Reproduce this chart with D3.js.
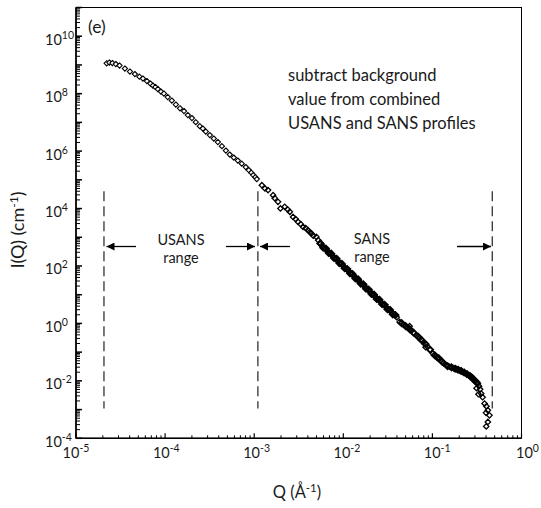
<!DOCTYPE html>
<html>
<head>
<meta charset="utf-8">
<script src="https://cdnjs.cloudflare.com/ajax/libs/d3/7.8.5/d3.min.js"></script>
<style>
  body { margin: 0; background: #fff; }
  text { font-family: Lato, "Open Sans", sans-serif; fill: #1a1a1a; }
</style>
</head>
<body>
<script>
// USANS part of the profile
var usansQ = [2.21e-5, 2.37e-5, 2.56e-5, 2.80e-5, 3.08e-5, 3.54e-5, 4.03e-5, 4.58e-5, 5.15e-5, 5.64e-5,
  6.25e-5, 6.84e-5, 7.30e-5, 7.78e-5, 8.30e-5, 8.97e-5, 9.70e-5, 1.07e-4, 1.19e-4, 1.32e-4,
  1.47e-4, 1.63e-4, 1.80e-4, 2.00e-4, 2.21e-4, 2.45e-4, 2.65e-4, 2.86e-4, 3.18e-4, 3.52e-4,
  3.91e-4, 4.34e-4, 4.81e-4, 5.32e-4, 5.90e-4, 6.55e-4, 7.26e-4, 8.05e-4, 8.69e-4, 9.28e-4,
  9.77e-4, 1.03e-3, 1.07e-3];
var usansI = [1.14e9, 1.21e9, 1.16e9, 1.07e9, 9.5e8, 7.5e8, 5.9e8, 4.8e8, 3.9e8, 3.36e8,
  2.75e8, 2.25e8, 1.91e8, 1.70e8, 1.45e8, 1.18e8, 1.01e8, 7.6e7, 5.75e7, 4.17e7,
  3.1e7, 2.48e7, 1.80e7, 1.41e7, 1.02e7, 7.4e6, 6.1e6, 4.8e6, 3.6e6, 2.73e6,
  2.06e6, 1.49e6, 1.04e6, 7.55e5, 5.94e5, 4.67e5, 3.66e5, 2.77e5, 2.18e5, 1.78e5,
  1.46e5, 1.24e5, 1.06e5];

// SANS part of the profile
var sansQ = [1.22e-3, 1.32e-3, 1.43e-3, 1.63e-3, 1.70e-3, 1.85e-3, 1.97e-3, 2.20e-3, 2.38e-3, 2.51e-3,
  2.73e-3, 2.92e-3, 3.10e-3, 3.33e-3, 3.53e-3, 3.79e-3, 4.02e-3, 4.20e-3, 4.39e-3, 4.60e-3,
  4.99e-3, 5.23e-3, 5.43e-3, 5.75e-3, 6.17e-3, 6.61e-3, 7.08e-3, 7.59e-3, 8.13e-3, 8.71e-3,
  9.33e-3, 1.00e-2, 1.07e-2, 1.15e-2, 1.23e-2, 1.32e-2, 1.41e-2, 1.51e-2, 1.62e-2, 1.74e-2,
  1.86e-2, 2.00e-2, 2.14e-2, 2.29e-2, 2.45e-2, 2.63e-2, 2.82e-2, 3.02e-2, 3.24e-2, 3.47e-2,
  3.72e-2, 3.98e-2, 0.0429, 0.0475, 0.0527, 0.0555, 0.0585, 0.066, 0.072, 0.0796,
  0.0839, 0.0883, 0.1014, 0.1114, 0.114, 0.1236, 0.1336, 0.143, 0.156, 0.173,
  0.187, 0.202, 0.218, 0.236, 0.255, 0.273, 0.290, 0.305, 0.313, 0.324,
  0.329, 0.334, 0.343, 0.353, 0.366, 0.385, 0.404, 0.419, 0.400, 0.437,
  0.419, 0.402];
var sansI = [6.5e4, 5.0e4, 4.38e4, 2.93e4, 2.30e4, 1.71e4, 1.01e4, 1.15e4, 9.2e3, 7.7e3,
  5.1e3, 4.28e3, 3.44e3, 2.86e3, 2.30e3, 2.07e3, 1.77e3, 1.51e3, 1.36e3, 1.14e3,
  1.03e3, 790, 608, 513, 418, 340, 277, 225, 184, 150,
  122, 99, 81, 66, 53.7, 43.7, 35.6, 29.0, 23.6, 19.2,
  15.7, 12.8, 10.4, 8.47, 6.90, 5.62, 4.58, 3.73, 3.04, 2.48,
  2.01, 1.64, 1.13, 0.90, 0.708, 0.80, 0.557, 0.388, 0.305, 0.221,
  0.148, 0.154, 0.0893, 0.0692, 0.0614, 0.0522, 0.0410, 0.035, 0.031, 0.0275,
  0.0254, 0.0234, 0.0207, 0.0184, 0.0157, 0.0137, 0.0114, 0.0097, 0.00553, 0.00805,
  0.00342, 0.00649, 0.00509, 0.00361, 0.00269, 0.00162, 0.00130, 9.46e-4, 7.7e-4, 6.3e-4,
  3.7e-4, 2.6e-4];

// extra SANS points where the profile is densely sampled
var sansDenseQ = [5.56e-3, 5.96e-3, 6.38e-3, 6.84e-3, 7.33e-3, 7.85e-3, 8.41e-3, 9.02e-3, 9.66e-3, 1.035e-2,
  1.109e-2, 1.189e-2, 1.274e-2, 1.365e-2, 1.462e-2, 1.567e-2, 1.679e-2, 1.799e-2, 1.928e-2, 2.065e-2,
  2.213e-2, 2.371e-2, 2.541e-2, 2.723e-2, 2.917e-2, 3.126e-2, 3.350e-2, 3.589e-2, 3.846e-2, 0.0452,
  0.0501, 0.0555, 0.0615, 0.0692, 0.0757, 0.0839, 0.0942, 0.106, 0.1175, 0.1285,
  0.148, 0.164, 0.180, 0.194, 0.210, 0.227, 0.245, 0.265, 0.282, 0.297,
  0.313];
var sansDenseI = [608, 432, 404, 286, 268, 190, 178, 126, 118, 83.6,
  78.2, 55.5, 51.9, 36.8, 34.4, 24.4, 22.9, 16.2, 15.1, 10.7,
  10.05, 7.13, 6.67, 4.73, 4.43, 3.14, 2.94, 2.08, 1.95, 1.02,
  0.80, 0.628, 0.474, 0.344, 0.261, 0.188, 0.121, 0.078, 0.0612, 0.0463,
  0.0323, 0.0293, 0.0264, 0.0244, 0.0220, 0.0195, 0.0170, 0.0147, 0.0124, 0.0104,
  0.00887];

// range markers (Q of the dashed lines)
var rangeQ = [2.06e-5, 1.1e-3, 0.47];
var dashTop = 4e4, dashBottom = 1.1e-3;

var xTicks = [1e-5, 1e-4, 1e-3, 1e-2, 1e-1, 1e0];
var xTickExp = ["-5", "-4", "-3", "-2", "-1", "0"];
var yTicks = [1e-4, 1e-2, 1e0, 1e2, 1e4, 1e6, 1e8, 1e10];
var yTickExp = ["-4", "-2", "0", "2", "4", "6", "8", "10"];

var W = 541, H = 508;
var plotL = 76, plotR = 521.5, plotT = 7.5, plotB = 438.3;

var svg = d3.select("body").append("svg")
  .attr("width", W).attr("height", H);

var x = d3.scaleLog().domain([1e-5, 1]).range([plotL, plotR]);
var y = d3.scaleLog().domain([1e-4, 1e11]).range([plotB, plotT]);

// frame
svg.append("rect")
  .attr("x", plotL).attr("y", plotT)
  .attr("width", plotR - plotL).attr("height", plotB - plotT)
  .attr("fill", "none").attr("stroke", "#000").attr("stroke-width", 1);

// minor + major ticks, drawn inward
var minorX = [], minorY = [];
for (var d = -5; d < 0; d++) {
  for (var k = 2; k < 10; k++) minorX.push(k * Math.pow(10, d));
}
for (var e = -4; e < 11; e++) {
  for (var m = 2; m < 10; m++) minorY.push(m * Math.pow(10, e));
}
var majorY = [];
for (var e2 = -4; e2 <= 11; e2++) majorY.push(Math.pow(10, e2));

svg.append("g").selectAll("line").data(minorX).enter().append("line")
  .attr("x1", function(v) { return x(v); }).attr("x2", function(v) { return x(v); })
  .attr("y1", plotB).attr("y2", plotB - 3)
  .attr("stroke", "#000").attr("stroke-width", 1);
svg.append("g").selectAll("line").data(xTicks).enter().append("line")
  .attr("x1", function(v) { return x(v); }).attr("x2", function(v) { return x(v); })
  .attr("y1", plotB).attr("y2", plotB - 5)
  .attr("stroke", "#000").attr("stroke-width", 1.2);

svg.append("g").selectAll("line").data(minorY).enter().append("line")
  .attr("y1", function(v) { return y(v); }).attr("y2", function(v) { return y(v); })
  .attr("x1", plotL).attr("x2", plotL + 4)
  .attr("stroke", "#000").attr("stroke-width", 1);
svg.append("g").selectAll("line").data(majorY).enter().append("line")
  .attr("y1", function(v) { return y(v); }).attr("y2", function(v) { return y(v); })
  .attr("x1", plotL).attr("x2", plotL + 6)
  .attr("stroke", "#000").attr("stroke-width", 1.5);

// heavier left and bottom axis lines
svg.append("line").attr("x1", plotL).attr("x2", plotL).attr("y1", plotT).attr("y2", plotB)
  .attr("stroke", "#000").attr("stroke-width", 1.6);
svg.append("line").attr("x1", plotL).attr("x2", plotR).attr("y1", plotB).attr("y2", plotB)
  .attr("stroke", "#000").attr("stroke-width", 1.6);

// tick labels
var xl = svg.append("g").selectAll("text").data(xTicks).enter().append("text")
  .attr("x", function(v, i) { return x(v) + i * 1.2; }).attr("y", 458)
  .attr("text-anchor", "middle").style("font-size", "14.5px");
xl.append("tspan").text("10");
xl.append("tspan").attr("dy", -6).style("font-size", "10.5px")
  .text(function(v, i) { return xTickExp[i]; });

var yl = svg.append("g").selectAll("text").data(yTicks).enter().append("text")
  .attr("x", 45).attr("y", function(v) { return y(v) + 8.5; })
  .style("font-size", "14.5px");
yl.append("tspan").text("10");
yl.append("tspan").attr("dy", -6).style("font-size", "10.5px")
  .text(function(v, i) { return yTickExp[i]; });

// axis titles
var xt = svg.append("text").attr("x", 297).attr("y", 498)
  .attr("text-anchor", "middle").style("font-size", "16.5px");
xt.append("tspan").text("Q (\u00c5");
xt.append("tspan").attr("dy", -6).style("font-size", "11.5px").text("-1");
xt.append("tspan").attr("dy", 6).text(")");

var yt = svg.append("text")
  .attr("transform", "translate(24,230) rotate(-90)")
  .attr("text-anchor", "middle").style("font-size", "18px");
yt.append("tspan").text("I(Q) (cm");
yt.append("tspan").attr("dy", -6).style("font-size", "12px").text("-1");
yt.append("tspan").attr("dy", 6).text(")");

// dashed range lines
svg.append("g").selectAll("line").data(rangeQ).enter().append("line")
  .attr("x1", function(v) { return x(v); }).attr("x2", function(v) { return x(v); })
  .attr("y1", y(dashTop)).attr("y2", y(dashBottom))
  .attr("stroke", "#333").attr("stroke-width", 1.3)
  .attr("stroke-dasharray", "10,5");

// arrows
svg.append("defs").append("marker")
  .attr("id", "head").attr("viewBox", "0 0 10 10")
  .attr("refX", 10).attr("refY", 5)
  .attr("markerWidth", 8).attr("markerHeight", 8)
  .attr("markerUnits", "userSpaceOnUse")
  .attr("orient", "auto")
  .append("path").attr("d", "M0,0 L10,5 L0,10 Z").attr("fill", "#000");

var arrowY = 246.5;
var arrows = [[136, 106.5], [226, 255], [290, 260], [457, 491]];
svg.append("g").selectAll("line").data(arrows).enter().append("line")
  .attr("x1", function(a) { return a[0]; }).attr("x2", function(a) { return a[1]; })
  .attr("y1", arrowY).attr("y2", arrowY)
  .attr("stroke", "#000").attr("stroke-width", 1.3)
  .attr("marker-end", "url(#head)");

// range labels
var rangeLabels = [["USANS", 181, 245], ["range", 181, 263], ["SANS", 372, 244], ["range", 372, 262]];
svg.append("g").selectAll("text").data(rangeLabels).enter().append("text")
  .attr("x", function(r) { return r[1]; }).attr("y", function(r) { return r[2]; })
  .attr("text-anchor", "middle").style("font-size", "14.5px")
  .text(function(r) { return r[0]; });

// panel label and note
svg.append("text").attr("x", 88).attr("y", 33).style("font-size", "17.5px").text("(e)");
var note = ["subtract background", "value from combined", "USANS and SANS profiles"];
svg.append("g").selectAll("text").data(note).enter().append("text")
  .attr("x", 288).attr("y", function(t, i) { return 81 + i * 24; })
  .style("font-size", "16.5px")
  .text(function(t) { return t; });

// data points as open diamonds
function drawPoints(qs, is, fill, r, sw) {
  var pts = qs.map(function(q, i) { return [q, is[i]]; });
  var dpath = "M0," + (-r) + " L" + r + ",0 L0," + r + " L" + (-r) + ",0 Z";
  svg.append("g").selectAll("path").data(pts).enter().append("path")
    .attr("transform", function(p) { return "translate(" + x(p[0]) + "," + y(p[1]) + ")"; })
    .attr("d", dpath)
    .attr("fill", fill).attr("stroke", "#000").attr("stroke-width", sw);
}
drawPoints(usansQ, usansI, "#fff", 2.6, 1.1);
drawPoints(sansQ, sansI, "none", 2.7, 1.3);
drawPoints(sansDenseQ, sansDenseI, "none", 3.0, 1.9);
</script>
</body>
</html>
